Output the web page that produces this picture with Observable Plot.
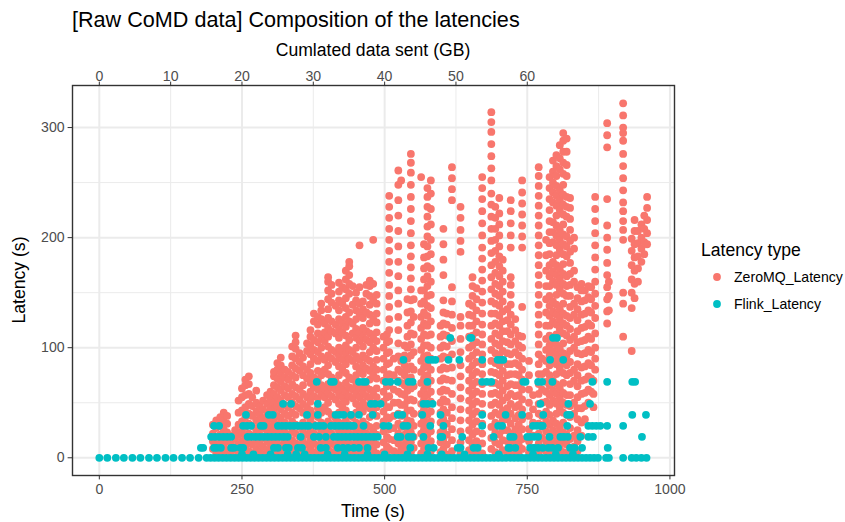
<!DOCTYPE html>
<html><head><meta charset="utf-8">
<script src="https://cdn.jsdelivr.net/npm/d3@7"></script>
<script src="https://cdn.jsdelivr.net/npm/@observablehq/plot@0.6"></script>
<style>
body{margin:0;background:#fff;font-family:"Liberation Sans",Arial,Helvetica,sans-serif}
#wrap{position:relative;width:845px;height:522px;overflow:hidden}
</style></head><body>
<div id="wrap"></div>
<script>
// ---- data ----
const chartTitle = "[Raw CoMD data] Composition of the latencies";
const xLabel = "Time (s)";
const yLabel = "Latency (s)";
const topLabel = "Cumlated data sent (GB)";
const legendTitle = "Latency type";
const seriesNames = ["ZeroMQ_Latency", "Flink_Latency"];
const seriesColors = ["#F8766D", "#00BFC4"];
const xTicks = [0, 250, 500, 750, 1000];
const xMinor = [125, 375, 625, 875];
const yTicks = [0, 100, 200, 300];
const yMinor = [50, 150, 250];
const gbTicks = [0, 10, 20, 30, 40, 50, 60];
const secondsPerGB = 12.5;

// ZeroMQ latency: [time, [latencies at that time]]
const zmqColumns = [
[199,[8,15,22,30]],
[205,[4,12,19,27,34]],
[212,[6,13,21,29,37]],
[218,[3,10,18,26,33,41]],
[224,[7,15,23,31,38]],
[231,[5,12,20]],
[238,[9,17,25]],
[244,[4,12,21,30,41,52]],
[250,[7,15,24,33,43,55,63]],
[256,[3,11,19,28,37,46,57,66,71]],
[262,[6,14,22,31,40,49,58,67,74]],
[268,[4,12,20,29,38,47,55]],
[275,[8,16,25,34,42,50,61]],
[281,[5,13,21,30,39,47]],
[287,[3,10,18,27,36,44,52]],
[294,[7,15,24,33,41,49,57]],
[300,[4,12,20,28,37,45,53,60]],
[306,[9,17,25,33,42,50,58,66,74,78]],
[312,[5,13,22,30,38,47,55,64,72,80,86]],
[318,[3,11,19,27,36,44,52,61,69,77,84,91]],
[325,[7,15,23,32,40,48,57,65,73,80]],
[331,[4,12,21,29,38,46,55,63,71,78]],
[338,[8,16,24,33,41,50,58,67,75,84,92,101]],
[344,[5,13,22,30,39,47,56,64,73,81,90,99,105,111]],
[351,[3,11,19,28,45,53,62,79,87,95]],
[357,[7,15,24,32,41,49,58,66,75,83,91]],
[364,[4,12,21,38,46,55,72,80,97,104]],
[370,[9,17,26,34,43,51,60,68,77,85,94,102,110,116]],
[376,[5,13,22,30,39,56,64,73,90,98,107,124,131]],
[383,[3,11,20,28,37,45,54,62,71,79,88,96,105,113,121,128]],
[389,[7,15,24,32,41,58,66,75,92,100,109,126,134,140]],
[395,[4,12,21,29,46,55,63,80,89,106,114,122]],
[401,[8,16,25,33,42,50,59,67,76,84,93,101,110,118,127,135,144,152,160,164]],
[407,[5,13,22,30,39,56,64,73,90,98,115,124,141,149,157]],
[414,[3,11,19,28,36,53,62,70,87,96,113,121,138]],
[420,[7,15,24,32,41,49,58,66,75,83,92,100,109,117,126,134,143,151,159]],
[426,[4,12,21,29,46,55,63,80,89,97,114,123,140,155]],
[432,[9,17,26,34,43,51,60,68,77,85,94,102,111,119,128,136,145,153,162,170]],
[438,[5,13,22,30,39,56,64,73,90,98,107,124,132,149,158,166,174,178]],
[444,[3,11,20,28,37,54,62,71,88,96,113,122,139,156]],
[450,[7,15,24,32,41,49,58,66,75,83,92,100,109,117,126,134,143,150]],
[456,[4,12,21,29,46,55,63,80,89,106,114,131,140,155,193]],
[462,[8,16,25,33,42,50,59,67,76,84,93,101,110,118,127,135,142]],
[468,[5,13,22,30,47,56,64,81,90,107,115,132,149,157]],
[474,[3,11,20,28,37,45,54,62,71,79,88,96,105,113,122,130,139,147,156,161]],
[480,[7,15,24,41,49,58,75,83,100,109,126,143,158,198]],
[486,[4,12,21,29,38,46,55,63,72,80,89,97,106,114,123,131,140,148]],
[498,[5,14,24,33,42,51,60,70,80,90,100,110]],
[504,[3,10,19,28,37,46,55,65,75,85,95,105,112]],
[508,[8,17,26,36,46,56,66,76,86,96,106,116,126,137,147,157,168,178,188,198,208,218,228,238]],
[516,[6,16,27,38,50,62,75,90]],
[524,[4,13,22,31,40,50,60,70,80,92,104,116,128,140,152,165,178,192,206,220,234,248,261]],
[529,[8,18,28,38,48,58,68,78,88,252]],
[535,[3,12,21,30,39,48,57,66,75,84,93,102]],
[540,[7,16,25,34,43,52,61,70,80,90,100,110,120,132,144]],
[546,[5,14,23,33,43,53,63,73,83,93,103,113,123,133,143,153,163,173,183,193,204,215,226,237,248,259,268,276]],
[551,[9,19,29,40,52,65,80,96,112,128,144]],
[564,[4,13,22,31,40,49,58,68,78,88,98,108,118,128,140,152,255]],
[569,[8,17,26,35,44,53,62,72,82,92,102,112,122,132,142,152,162,172,182,194]],
[575,[3,12,21,30,39,48,57,66,75,84,93,102,111,120,129,138,147,156,165,174,183,192,201,210,219,228,237,245]],
[581,[6,15,24,33,42,51,60,70,80,90,100,112,124,136,148,160,172,185,198,212,226,240,252]],
[598,[5,14,23,32,41,50,60,70,80,90,100,110,120]],
[603,[8,17,26,35,44,53,62,72,82,92,102,112,122,132,143,166,180,194,208]],
[609,[3,12,21,31,41,51,61,71,81,91,101,111,121,131]],
[618,[6,16,26,36,46,58,70,82,94,106,118,130,142,155,234,244,254,264]],
[633,[4,14,24,34,44,54,64,74,84,96,108,120,128,187,197,207,218,228]],
[648,[7,16,25,34,43,52,61,70,80,90,100,110,120,130,140]],
[654,[3,12,21,30,39,48,57,66,75,84,93,102,111,120,129,138,147,156,164]],
[661,[6,15,24,33,42,51,60,69,78,87,96,105,114,124,134,144,154]],
[671,[4,13,22,31,40,49,58,67,76,85,94,103,112,121,131,141,151,161,171,181,191,202,213,224,235,245,255]],
[687,[8,18,28,38,48,58,68,78,88,98,108,120,131,142,153,164,175,186,197,208,219,230,240,252,263,274,285,296,305,314]],
[694,[5,14,23,32,41,50,59,68,77,86,95,104,113,122,131,140,149,158,168,178,188,198,208,218,228]],
[701,[3,12,21,30,39,48,57,66,75,84,93,102,111,120,129,138,147,156,165,174,183,192,202,212,222,236]],
[707,[7,16,25,34,43,52,61,70,79,88,97,106,115,124,133,142,151,160,170,180]],
[715,[5,15,25,35,45,55,65,75,85,95,105,115,125,135]],
[721,[4,13,22,31,40,49,58,67,76,85,94,103,112,121,130,139,148,157,164,191,202,213,224,234]],
[729,[6,16,26,36,46,56,66,76,86,96,106,116,126]],
[735,[3,12,21,30,39,48,57,66,75,84,93,102,111]],
[741,[8,17,26,35,44,53,62,71,80,90,100,110,137,191,201,211,221,231,241,252]],
[753,[5,15,26,38,50,62,75,88]],
[760,[9,20,32,44,57]],
[770,[4,13,22,31,40,49,58,67,76,85,94,103,112,121,130,139,148,157,166,175,184,193,202,211,220,229,238,247,256,264]],
[776,[8,18,28,38,50,62,76,90]],
[783,[6,15,24,33,42,51,60,69,78,88,98,108,120,132,144,156,170,184,198]],
[789,[3,12,21,30,39,48,57,66,75,84,93,102,111,120,129,138,147,156,165,175,185,195,205,215,225,235,245,255]],
[795,[7,16,25,34,52,61,70,88,97,106,124,133,142,160,169,178,196,205,214,232,241,250,260,270]],
[801,[4,13,22,31,40,49,58,67,76,85,94,103,112,121,130,139,148,157,166,175,184,193,202,211,220,229,238,247,256,265,275]],
[807,[9,18,27,45,54,63,81,90,99,117,126,135,153,162,171,189,198,207,225,234,243,262,272,284]],
[813,[5,14,23,32,41,50,59,68,77,86,95,104,113,122,131,140,149,158,167,176,185,194,203,212,221,230,239,248,258,268,278,288,295]],
[819,[3,12,21,39,48,57,75,84,93,111,120,129,147,156,165,183,192,201,219,228,237,256,266,278,290]],
[825,[7,17,27,37,47,57,67,77,87,97,107,117,127,137,147,157,167,177,187,197,207,217,227,236]],
[832,[10,20,40,50,70,80,100,110,130,140,160,170,190,200]],
[838,[6,15,25,35,45,55,65,75,85,95,105,115,125,135,145,155]],
[845,[20,32,45,58,70,82,94,106,118,130,142,152,158]],
[851,[35,47,59,71,83,95,107,119,131,143,152]],
[857,[50,62,74,86,98,110,122,134,146,156]],
[862,[60,72,84,96,108,120,132,144,155]],
[866,[46,58,70]],
[869,[80,90,100,113,127,138,149,160,171,182,193,204,215,226,237]],
[890,[122,133,144,155,166,177,189,200,211,235,282,293,304]],
[893,[134,147,160]],
[918,[110,140,150,198,207,215,224,232,243,254,265,276,288,295,300,311,322]],
[933,[97,136,150,162,175,188,199]],
[938,[145,158,170,182,194,206,216]],
[944,[160,172,183,195,206]],
[950,[178,190,200,212]],
[955,[185,196,208,220]],
[960,[194,204,216,227,237]]
];

// Flink latency: [latency level, [times at that level]]
const flinkRows = [
[0,[0,14,29,43,58,72,87,101,116,130,145,159,174,188,195,202,209,216,223,230,237,244,251,258,265,272,279,286,293,300,307,314,321,328,335,342,349,356,363,370,377,384,391,398,405,412,419,426,433,440,447,454,461,468,475,482,489,496,503,510,517,524,531,538,545,552,559,566,573,580,587,594,601,608,615,622,629,636,643,650,657,664,671,678,685,692,699,706,713,720,727,734,741,748,755,762,769,776,783,790,797,804,811,818,825,832,839,846,853,860,867,874,888,893,918,933,941,950,959]],
[3,[250,270,300,330,345,360,400,430,470,500,540,575,600,640,700,760,800,830]],
[9,[178,182,201,206,213,231,236,247,252,306,313,327,332,348,355,388,397,418,427,436,446,455,470,545,577,586,628,633,656,663,717,720,729,755,762,769,777,787,794,804,825,833,846,891]],
[19,[196,203,210,217,224,231,260,267,274,281,288,295,302,309,316,323,330,353,376,385,397,411,418,425,432,439,446,453,460,467,474,481,488,523,528,542,549,568,598,601,636,691,720,726,750,755,762,769,789,808,814,821,843,857,865,951]],
[29,[201,210,252,259,266,283,288,313,320,327,334,341,348,355,362,367,379,386,393,406,413,420,427,434,441,446,463,498,507,533,540,580,603,671,699,706,760,767,774,777,820,857,864,871,878,890,918]],
[39,[257,297,304,364,383,414,421,428,441,455,479,523,531,566,598,671,712,741,778,820,825,934,958]],
[49,[322,336,383,476,483,493,568,575,584,773,822,860]],
[69,[381,406,411,455,462,467,502,510,523,542,549,575,671,679,687,743,747,769,776,794,864,890,934,939]],
[89,[533,577,583,589,612,631,671,698,703,708,790,813]],
[109,[615,650,652,795,802]]
];

// ---- build tables ----
const zmq = zmqColumns.flatMap(([t, ls]) => ls.map(l => ({time: t, latency: l, type: seriesNames[0]})));
const flink = flinkRows.flatMap(([l, ts]) => ts.map(t => ({time: t, latency: l, type: seriesNames[1]})));

const FONT = '"Liberation Sans", Arial, Helvetica, sans-serif';
const TICK = 14.1, TITLE = 17.6, MAIN = 21.6, R = 3.9;
const axisStyle = {tickSize: 4.4, fontSize: TICK, stroke: "#333333", fill: "#4D4D4D", label: null};
const plot = Plot.plot({
  width: 845, height: 522,
  marginLeft: 72, marginRight: 171, marginTop: 85, marginBottom: 47,
  style: {fontFamily: FONT, background: "white", overflow: "visible"},
  x: {domain: [-47, 1008]},
  y: {domain: [-16.1, 338.2]},
  marks: [
    Plot.gridX(xMinor, {stroke: "#EBEBEB", strokeOpacity: 1, strokeWidth: 1}),
    Plot.gridY(yMinor, {stroke: "#EBEBEB", strokeOpacity: 1, strokeWidth: 1}),
    Plot.gridX(xTicks, {stroke: "#EBEBEB", strokeOpacity: 1, strokeWidth: 2}),
    Plot.gridY(yTicks, {stroke: "#EBEBEB", strokeOpacity: 1, strokeWidth: 2}),
    Plot.dot(zmq, {x: "time", y: "latency", r: R, fill: seriesColors[0], stroke: null}),
    Plot.dot(flink, {x: "time", y: "latency", r: R, fill: seriesColors[1], stroke: null}),
    Plot.frame({stroke: "#333333", strokeWidth: 1.4}),
    Plot.axisX(xTicks, {...axisStyle, anchor: "bottom", tickPadding: 4.5, tickFormat: d => String(d)}),
    Plot.axisX(gbTicks.map(g => g * secondsPerGB), {...axisStyle, anchor: "top", tickPadding: 0.5, tickFormat: d => String(Math.round(d / secondsPerGB))}),
    Plot.axisY(yTicks, {...axisStyle, anchor: "left", tickPadding: 3.5, tickFormat: d => String(d)})
  ]
});
document.getElementById("wrap").appendChild(plot);

// titles and legend as SVG text
const svg = d3.select(plot);
const addText = (x, y, txt, size, anchor, extra) => {
  const t = svg.append("text").attr("x", x).attr("y", y).attr("font-size", size)
    .attr("font-family", FONT).attr("fill", "#000").attr("text-anchor", anchor).text(txt);
  if (extra) extra(t);
  return t;
};
addText(72, 27, chartTitle, MAIN, "start");
addText(373, 56, topLabel, TITLE, "middle");
addText(373, 517, xLabel, TITLE, "middle");
addText(0, 0, yLabel, TITLE, "middle", t => t.attr("transform", "translate(25,280) rotate(-90)"));
addText(701, 256, legendTitle, TITLE, "start");
const keyY = [277, 304];
seriesNames.forEach((name, i) => {
  svg.append("circle").attr("cx", 717).attr("cy", keyY[i]).attr("r", R).attr("fill", seriesColors[i]);
  addText(734, keyY[i] + 5, name, TICK, "start");
});
</script>
</body></html>
